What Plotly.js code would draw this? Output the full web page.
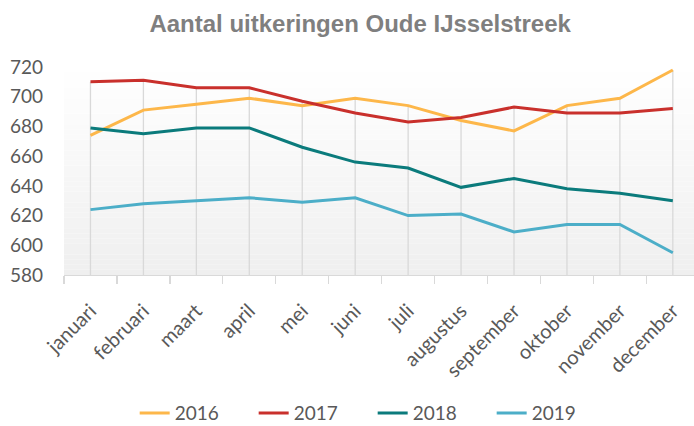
<!DOCTYPE html>
<html>
<head>
<meta charset="utf-8">
<script src="https://cdn.plot.ly/plotly-3.0.1.min.js"></script>
<style>
html,body{margin:0;padding:0;background:#fff;}
#chart{width:694px;height:426px;}
</style>
</head>
<body>
<div id="chart"></div>
<script>
const months = ["januari","februari","maart","april","mei","juni","juli","augustus","september","oktober","november","december"];
const years = ["2016","2017","2018","2019"];
const v2016 = [674, 691, 695, 699, 694, 699, 694, 684, 677, 694, 699, 718];
const v2017 = [710, 711, 706, 706, 697, 689, 683, 686, 693, 689, 689, 692];
const v2018 = [679, 675, 679, 679, 666, 656, 652, 639, 645, 638, 635, 630];
const v2019 = [624, 628, 630, 632, 629, 632, 620, 621, 609, 614, 614, 595];
const yTicks = [580, 600, 620, 640, 660, 680, 700, 720];

const series = [v2016, v2017, v2018, v2019];
const colors = ["#FDB74A", "#C9302C", "#0B7B7C", "#4CAEC8"];

// drop lines: from the highest series value down to the axis minimum
const dropX = [], dropY = [];
months.forEach((m, i) => {
  const mx = Math.max(...series.map(s => s[i]));
  dropX.push(m, m, null);
  dropY.push(yTicks[0], mx, null);
});

const traces = [{
  type: "scatter", mode: "lines", x: dropX, y: dropY,
  line: {color: "#d9d9d9", width: 1.3},
  hoverinfo: "skip", showlegend: false
}];
series.forEach((s, k) => {
  traces.push({
    type: "scatter", mode: "lines", name: years[k],
    x: months, y: s,
    line: {color: colors[k], width: 3}
  });
});

// subtle vertical gradient for the plot area
const shapes = [];
const bands = 40;
for (let b = 0; b < bands; b++) {
  const t = (b + 0.5) / bands; // 0 at bottom, 1 at top
  const g = Math.round(239 + (255 - 239) * t);
  shapes.push({
    type: "rect", xref: "paper", yref: "paper", layer: "below",
    x0: 0, x1: 1, y0: b / bands, y1: (b + 1) / bands,
    fillcolor: `rgb(${g},${g},${g})`, line: {width: 0}
  });
}

const layout = {
  width: 694, height: 426,
  margin: {l: 63.5, r: 0, t: 67, b: 150.5},
  paper_bgcolor: "#ffffff",
  plot_bgcolor: "#ffffff",
  title: {
    text: "Aantal uitkeringen Oude IJsselstreek",
    font: {family: "Liberation Sans, Arial, sans-serif", size: 24, color: "#7f7f7f", weight: 700},
    x: 0.519, xref: "container", xanchor: "center",
    y: 0.944, yref: "container", yanchor: "middle"
  },
  xaxis: {
    type: "category",
    range: [-0.5, 11.4],
    showgrid: false,
    showline: true, linecolor: "#d9d9d9", linewidth: 1.3,
    ticks: "outside", tickson: "boundaries", ticklen: 8, tickcolor: "#d9d9d9", tickwidth: 1.3,
    tickangle: -45,
    tickfont: {family: "Lato, sans-serif", size: 20, color: "#595959"},
    ticklabelstandoff: 15,
    fixedrange: true
  },
  yaxis: {
    range: [580, 720],
    tickvals: yTicks,
    ticktext: yTicks.map(String),
    showgrid: false, zeroline: false, showline: false,
    ticks: "",
    ticklabelstandoff: 20,
    tickfont: {family: "Lato, sans-serif", size: 19, color: "#595959"},
    fixedrange: true
  },
  showlegend: true,
  legend: {
    orientation: "h",
    x: 0.537, xanchor: "center", xref: "container",
    y: 0.03, yanchor: "middle", yref: "container",
    font: {family: "Lato, sans-serif", size: 19, color: "#595959"},
    entrywidth: 74, entrywidthmode: "pixels",
    bgcolor: "rgba(0,0,0,0)"
  },
  shapes: shapes
};

Plotly.newPlot("chart", traces, layout, {displayModeBar: false, staticPlot: true});
</script>
</body>
</html>
